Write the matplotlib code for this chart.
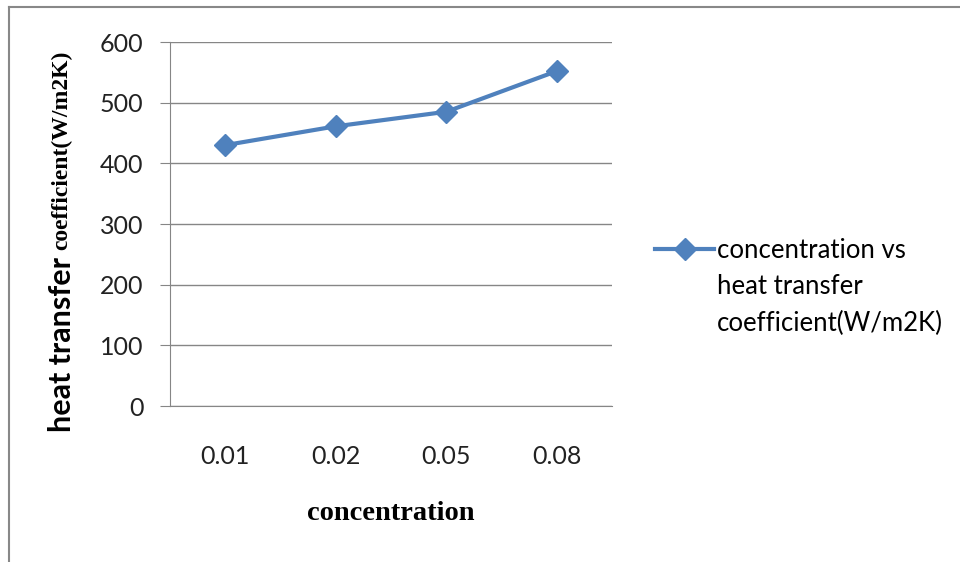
import matplotlib.pyplot as plt
from matplotlib.lines import Line2D

# data
concentration = ['0.01', '0.02', '0.05', '0.08']
htc = [430, 461, 485, 552]
yticks = [0, 100, 200, 300, 400, 500, 600]

W, H = 960, 562
fig = plt.figure(figsize=(W / 100, H / 100), dpi=100)

# axes placed in pixel terms
x0, x1, ytop, ybot = 170, 612, 42, 406
ax = fig.add_axes([x0 / W, (H - ybot) / H, (x1 - x0) / W, (ybot - ytop) / H])

blue = '#4F81BD'
grid = '#868686'
ax.plot(range(len(htc)), htc, color=blue, lw=3, marker='D', ms=11,
        label='concentration vs')

ax.set_xlim(-0.5, len(htc) - 0.5)
ax.set_ylim(0, 600)
ax.set_yticks(yticks)
ax.set_xticks(range(len(concentration)))
ax.set_xticklabels(concentration)
ax.yaxis.grid(True, color=grid, lw=1)
ax.set_axisbelow(True)
for s in ['top', 'right']:
    ax.spines[s].set_visible(False)
ax.spines['left'].set_color(grid)
ax.spines['bottom'].set_color(grid)
ax.tick_params(axis='y', length=7, color=grid, pad=12, labelsize=18)
ax.tick_params(axis='x', length=0, pad=28, labelsize=18)
for lab in ax.get_xticklabels() + ax.get_yticklabels():
    lab.set_fontfamily('Lato')
    lab.set_color('#222222')

# x label
fig.text(391 / W, 1 - 513 / H, 'concentration', family='Liberation Serif',
         weight='bold', fontsize=20.5, ha='center', va='center')

# y label in two fonts
t1 = fig.text(62 / W, 1 - 432 / H, 'heat transfer ', family='Lato',
              weight='bold', fontsize=22, rotation=90, ha='center', va='bottom')
fig.canvas.draw()
bb = t1.get_window_extent()
fig.text(62 / W, bb.y1 / H, 'coefficient(W/m2K)', family='Liberation Serif',
         weight='bold', fontsize=17, rotation=90, ha='center', va='bottom')

# legend: handle on the first line, rest of the label below it
leg = fig.legend(loc='center left', bbox_to_anchor=(645 / W, 1 - 250 / H),
                 frameon=False, prop={'family': 'Lato', 'size': 18.5},
                 handlelength=2.3, handletextpad=0.1, borderaxespad=0)
fig.canvas.draw()
lt = leg.get_texts()[0].get_window_extent()
fig.text(lt.x0 / W, 1 - 287 / H, 'heat transfer', family='Lato', fontsize=18.5,
         va='center', ha='left')
fig.text(lt.x0 / W, 1 - 323 / H, 'coefficient(W/m2K)', family='Lato', fontsize=18.5,
         va='center', ha='left')

# outer frame (only top and left are visible in the picture)
fig.add_artist(Line2D([9 / W, 9 / W], [0, 1 - 7 / H], color='#888888', lw=1.5,
                      transform=fig.transFigure))
fig.add_artist(Line2D([9 / W, 1], [1 - 7 / H, 1 - 7 / H], color='#888888', lw=1.5,
                      transform=fig.transFigure))

fig.savefig('out.png', dpi=100)
